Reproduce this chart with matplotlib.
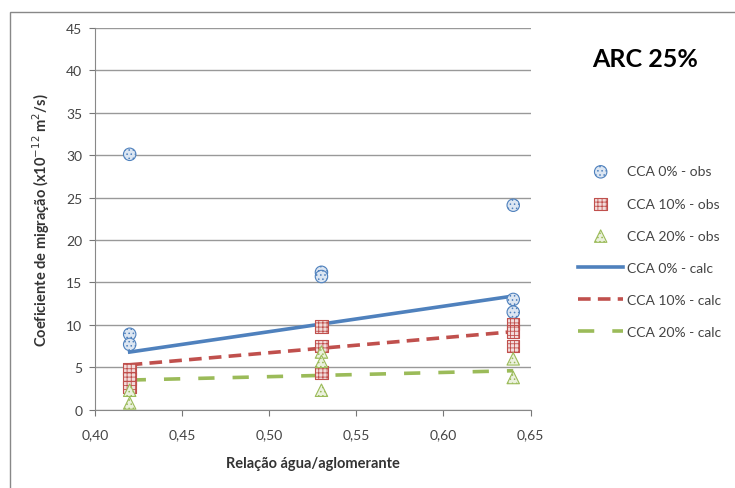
import matplotlib.pyplot as plt
from matplotlib.patches import Rectangle

plt.rcParams['font.family'] = ['Lato', 'DejaVu Sans']
plt.rcParams['hatch.linewidth'] = 0.6

# observed points
x_cca0 = [0.42, 0.42, 0.42, 0.53, 0.53, 0.64, 0.64, 0.64]
y_cca0 = [30.1, 8.9, 7.7, 16.2, 15.7, 24.1, 13.0, 11.5]
x_cca10 = [0.42, 0.42, 0.42, 0.53, 0.53, 0.53, 0.64, 0.64, 0.64]
y_cca10 = [4.8, 3.7, 2.7, 9.8, 7.5, 4.4, 10.1, 9.2, 7.5]
x_cca20 = [0.42, 0.42, 0.53, 0.53, 0.53, 0.64, 0.64]
y_cca20 = [2.3, 0.8, 6.8, 5.7, 2.3, 6.0, 3.8]

# calculated lines
x_calc = [0.42, 0.64]
calc_cca0 = [6.8, 13.4]
calc_cca10 = [5.3, 9.2]
calc_cca20 = [3.5, 4.6]

blue = '#4F81BD'
red = '#C0504D'
green = '#9BBB59'

fig = plt.figure(figsize=(7.35, 4.89), dpi=100)
ax = fig.add_axes([0.129, 0.160, 0.593, 0.781])

fig.patches.append(Rectangle((0.013, -0.1), 1.1, 1.073, transform=fig.transFigure,
                             fill=False, edgecolor='#888888', lw=1.0))

ax.scatter(x_cca0, y_cca0, s=80, marker='o', facecolor='#DCE6F2', edgecolor=blue,
           hatch='....', lw=0.8, label='CCA 0% - obs', zorder=3)
ax.scatter(x_cca10, y_cca10, s=80, marker='s', facecolor='#F2DCDB', edgecolor=red,
           hatch='++++', lw=0.8, label='CCA 10% - obs', zorder=3)
ax.scatter(x_cca20, y_cca20, s=80, marker='^', facecolor='#EBF1DE', edgecolor=green,
           hatch='....', lw=0.8, label='CCA 20% - obs', zorder=3)

ax.plot(x_calc, calc_cca0, color=blue, lw=2.6, label='CCA 0% - calc', zorder=2)
ax.plot(x_calc, calc_cca10, color=red, lw=2.6, ls=(0, (3.5, 2)), label='CCA 10% - calc', zorder=2)
ax.plot(x_calc, calc_cca20, color=green, lw=2.6, ls=(0, (4.5, 5)), label='CCA 20% - calc', zorder=2)

ax.set_xlim(0.40, 0.65)
ax.set_ylim(0, 45)
ax.set_xticks([0.40, 0.45, 0.50, 0.55, 0.60, 0.65])
ax.set_xticklabels(['0,40', '0,45', '0,50', '0,55', '0,60', '0,65'])
ax.set_yticks(range(0, 50, 5))
ax.tick_params(labelsize=10, colors='#777777', length=4, pad=5)
ax.tick_params(axis='x', pad=9)
for lab in ax.get_xticklabels() + ax.get_yticklabels():
    lab.set_color('#444444')
ax.grid(axis='y', color='#999999', lw=1.0)
ax.set_axisbelow(True)
for s in ['top', 'right']:
    ax.spines[s].set_visible(False)
for s in ['left', 'bottom']:
    ax.spines[s].set_color('#888888')

ax.set_xlabel('Relação água/aglomerante', fontsize=10.5, fontweight='bold', labelpad=12,
              color='#333333')
ax.set_ylabel('Coeficiente de migração (x10$^{-12}$ m$^2$/s)', fontsize=10.5,
              fontweight='bold', labelpad=10, color='#333333')

fig.text(0.877, 0.878, 'ARC 25%', fontsize=18, fontweight='bold', ha='center', va='center')

leg = fig.legend(loc='center left', bbox_to_anchor=(0.77, 0.483), frameon=False, fontsize=10,
                 handlelength=3.2, handletextpad=0.3, labelspacing=1.45, scatterpoints=1)
for t in leg.get_texts():
    t.set_color('#444444')

fig.savefig('out.png', dpi=100)
